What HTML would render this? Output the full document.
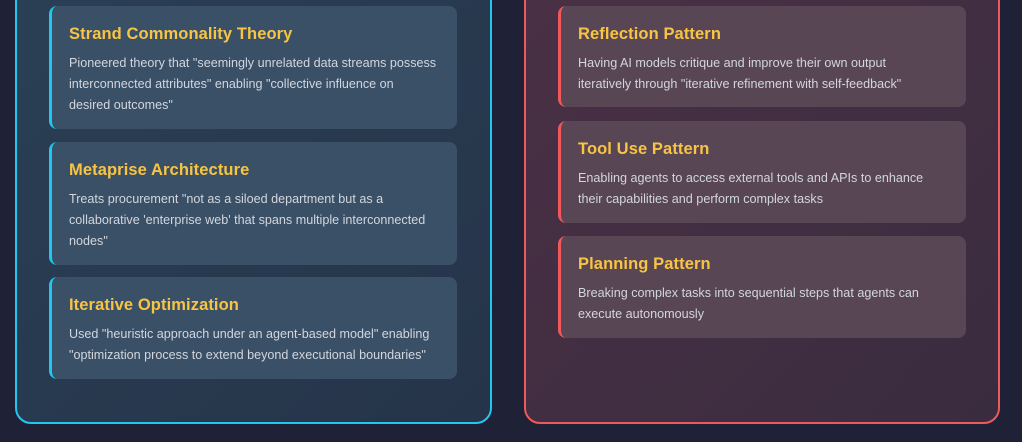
<!DOCTYPE html>
<html><head><style>
*{margin:0;padding:0;box-sizing:border-box}
body{width:1022px;height:442px;background:#1f2136;position:relative;overflow:hidden;font-family:"Liberation Sans",sans-serif}
.panel{position:absolute;top:-30px;height:454px;border-radius:16px;border:2px solid}
.l{left:15px;width:477px;border-color:#1ec8f0;background:linear-gradient(135deg,#2a3f55,#263449)}
.r{left:524px;width:476px;border-color:#f0595c;background:linear-gradient(135deg,#4a3045,#3a2c3f)}
.card{position:absolute;width:408px;border-radius:8px;padding:19px 10px 0 17px;border-left:3px solid;white-space:nowrap}
.l .card{left:32px;border-color:#1ec8f0;background:#3a5066}
.r .card{left:32px;border-color:#f0595c;background:#594655}
h3{color:#f8c443;font-size:16.5px;font-weight:bold;margin-bottom:9px;letter-spacing:0.1px}
p{color:#d2d6de;font-size:12.6px;line-height:21px}
</style></head><body>
<div class="panel l">
 <div class="card" style="top:34px;height:123px"><h3>Strand Commonality Theory</h3><p>Pioneered theory that "seemingly unrelated data streams possess<br>interconnected attributes" enabling "collective influence on<br>desired outcomes"</p></div>
 <div class="card" style="top:170px;height:123px"><h3>Metaprise Architecture</h3><p>Treats procurement "not as a siloed department but as a<br>collaborative 'enterprise web' that spans multiple interconnected<br>nodes"</p></div>
 <div class="card" style="top:305px;height:102px"><h3>Iterative Optimization</h3><p>Used "heuristic approach under an agent-based model" enabling<br>"optimization process to extend beyond executional boundaries"</p></div>
</div>
<div class="panel r">
 <div class="card" style="top:34px;height:101px"><h3>Reflection Pattern</h3><p>Having AI models critique and improve their own output<br>iteratively through "iterative refinement with self-feedback"</p></div>
 <div class="card" style="top:149px;height:102px"><h3>Tool Use Pattern</h3><p>Enabling agents to access external tools and APIs to enhance<br>their capabilities and perform complex tasks</p></div>
 <div class="card" style="top:264px;height:102px"><h3>Planning Pattern</h3><p>Breaking complex tasks into sequential steps that agents can<br>execute autonomously</p></div>
</div>
</body></html>
